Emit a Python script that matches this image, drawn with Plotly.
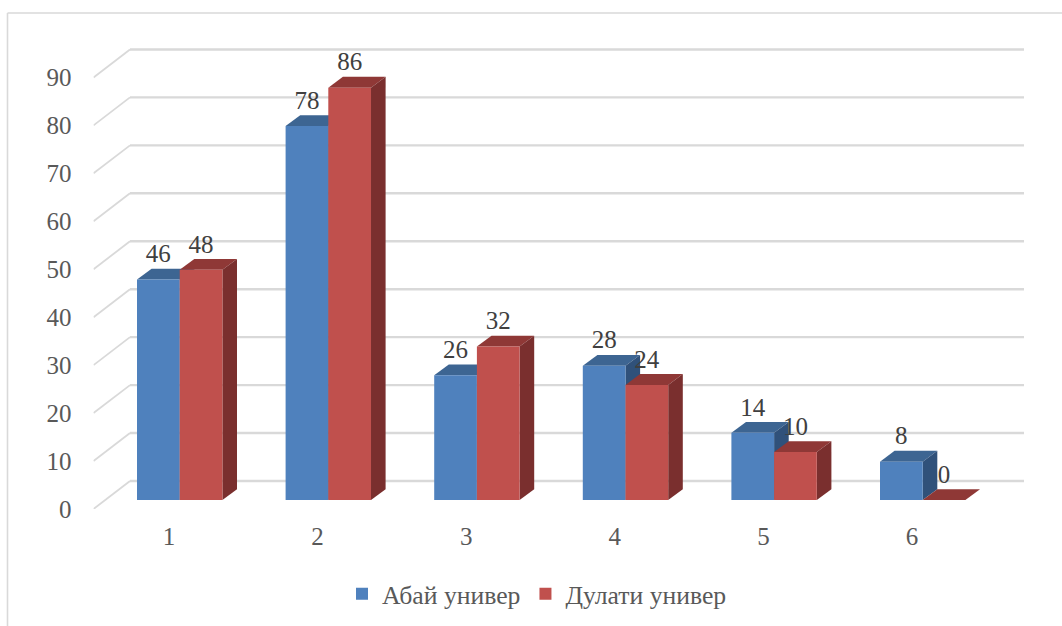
import plotly.graph_objects as go

categories = [1, 2, 3, 4, 5, 6]
abai = [46, 78, 26, 28, 14, 8]
dulati = [48, 86, 32, 24, 10, 0]
y_ticks = [0, 10, 20, 30, 40, 50, 60, 70, 80, 90]
series_names = ["Абай универ", "Дулати универ"]

W, H = 1062, 626
FONT = "Liberation Serif"
BLUE, BLUE_TOP, BLUE_SIDE = "#4F81BD", "#3D6592", "#30517A"
RED, RED_TOP, RED_SIDE = "#C0504D", "#8F3836", "#7A2F2E"
GRID = "#D9D9D9"

# projection scales (pixels per data unit)
PX_X = 148.6
PX_Y = 4.795
LEFT, RIGHT, BOTTOM, TOP = 93.5, 1024.0, 509.0, 40.0
TICK1 = 169.0
x0 = 1 + (LEFT - TICK1) / PX_X
x1 = 1 + (RIGHT - TICK1) / PX_X
y1 = (BOTTOM - TOP) / PX_Y

wall_dx, wall_dy = 36.5 / PX_X, 28.0 / PX_Y     # front plane to back wall
bar_dx, bar_dy = 14.6 / PX_X, 10.8 / PX_Y       # bar depth
base = 9.0 / PX_Y                               # bars stand on the floor, behind the front plane
bar_w = 42.7 / PX_X
off_a = (137.0 - TICK1) / PX_X
off_b = off_a + bar_w
label_gap = 23.5 / PX_Y


def poly(points, color):
    path = "M " + " L ".join(f"{a:.4f},{b:.4f}" for a, b in points) + " Z"
    return dict(type="path", xref="x", yref="y", path=path, fillcolor=color,
                line=dict(width=0), layer="below")


shapes = []
for v in y_ticks:
    yb = v + wall_dy
    shapes.append(dict(type="line", xref="x", yref="y", x0=x0 + wall_dx, x1=x1, y0=yb, y1=yb,
                       line=dict(color=GRID, width=2.4), layer="below"))
    shapes.append(dict(type="line", xref="x", yref="y", x0=x0, x1=x0 + wall_dx, y0=v, y1=yb,
                       line=dict(color=GRID, width=1.8), layer="below"))


def depth_faces(values, offset, top, side):
    out = []
    for c, v in zip(categories, values):
        l = c + offset
        r = l + bar_w
        t = base + v
        out.append(poly([(l, t), (r, t), (r + bar_dx, t + bar_dy), (l + bar_dx, t + bar_dy)], top))
        out.append(poly([(r, base), (r + bar_dx, base + bar_dy), (r + bar_dx, t + bar_dy), (r, t)], side))
    return out


shapes += depth_faces(abai, off_a, BLUE_TOP, BLUE_SIDE)
shapes += depth_faces(dulati, off_b, RED_TOP, RED_SIDE)

# chart frame: only top and left edges are in the picture
shapes.append(dict(type="line", xref="paper", yref="paper", x0=7.5 / W, x1=1, y0=1 - 13 / H, y1=1 - 13 / H,
                   line=dict(color=GRID, width=1.6), layer="below"))
shapes.append(dict(type="line", xref="paper", yref="paper", x0=7.5 / W, x1=7.5 / W, y0=0, y1=1 - 13 / H,
                   line=dict(color=GRID, width=1.6), layer="below"))

fig = go.Figure()
for name, vals, off, col in [(series_names[0], abai, off_a, BLUE), (series_names[1], dulati, off_b, RED)]:
    fig.add_trace(go.Bar(x=categories, y=vals, base=base, offset=off, width=bar_w, name=name,
                         marker=dict(color=col, line=dict(width=0))))
    fig.add_trace(go.Scatter(x=[c + off + bar_w / 2 for c in categories],
                             y=[v + base + label_gap for v in vals],
                             text=[str(v) for v in vals], mode="text", showlegend=False,
                             textposition="middle center", cliponaxis=False,
                             textfont=dict(family=FONT, size=25, color="#404040")))

fig.update_layout(
    width=W, height=H, margin=dict(l=0, r=0, t=0, b=0, autoexpand=False),
    paper_bgcolor="white", plot_bgcolor="rgba(0,0,0,0)",
    barmode="overlay", shapes=shapes, hovermode=False,
    font=dict(family=FONT, size=25, color="#595959"),
    legend=dict(orientation="h", x=0.5 + 6 / W, xanchor="center", y=1 - 594 / H, yanchor="middle",
                font=dict(family=FONT, size=25.7, color="#595959"), itemwidth=30,
                bgcolor="rgba(0,0,0,0)"),
    xaxis=dict(domain=[LEFT / W, RIGHT / W], range=[x0, x1], tickmode="array", tickvals=categories,
               showgrid=False, zeroline=False, showline=False, ticks="outside", ticklen=5,
               tickcolor="rgba(0,0,0,0)"),
    yaxis=dict(domain=[1 - BOTTOM / H, 1 - TOP / H], range=[0, y1], tickmode="array", tickvals=y_ticks,
               showgrid=False, zeroline=False, showline=False, ticks="outside", ticklen=16,
               tickcolor="rgba(0,0,0,0)"),
)

fig.write_html("out.html", config={"displayModeBar": False},
               post_script="document.body.style.margin='0';document.documentElement.style.overflow='hidden';")
